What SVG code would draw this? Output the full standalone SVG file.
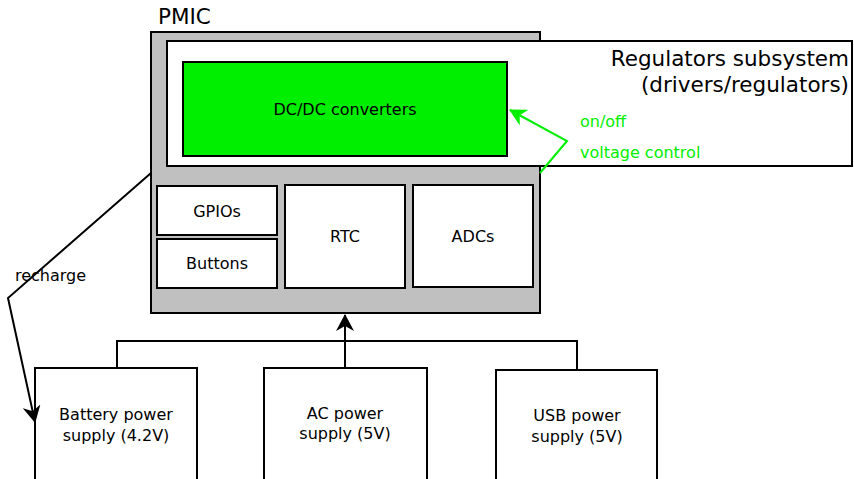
<svg xmlns="http://www.w3.org/2000/svg" width="854" height="479" viewBox="0 0 854 479">
<style>
text{font-family:"DejaVu Sans",sans-serif;font-size:16px;fill:#000}
.box{fill:#fff;stroke:#000;stroke-width:2}
.c{text-anchor:middle}
.ln{fill:none;stroke:#000;stroke-width:2}
.big{font-size:21.5px}
.gt{fill:#00ee00}
</style>
<defs>
<marker id="ab" viewBox="0 0 17 18" refX="16" refY="9" markerWidth="17" markerHeight="18" markerUnits="userSpaceOnUse" orient="auto">
<path d="M0,0 L17,9 L0,18 L5,9 Z" fill="#000"/>
</marker>
<marker id="ag" viewBox="0 0 17 18" refX="16" refY="9" markerWidth="17" markerHeight="18" markerUnits="userSpaceOnUse" orient="auto">
<path d="M0,0 L17,9 L0,18 L5,9 Z" fill="#00ee00"/>
</marker>
</defs>
<g id="pmic">
<rect x="151" y="32" width="389" height="281" fill="#c0c0c0" stroke="#000" stroke-width="2"/>
<text class="big" x="158" y="24">PMIC</text>
</g>
<g id="regulators">
<rect class="box" x="167" y="41" width="685" height="125"/>
<text class="big" x="849" y="66" text-anchor="end">Regulators subsystem</text>
<text class="big" x="849" y="92" text-anchor="end">(drivers/regulators)</text>
</g>
<g id="dcdc">
<rect x="183" y="62" width="324" height="94" fill="#00ee00" stroke="#000" stroke-width="2"/>
<text class="c" x="345" y="115">DC/DC converters</text>
</g>
<g id="gpios">
<rect class="box" x="157" y="186" width="120" height="49"/>
<text class="c" x="217" y="217">GPIOs</text>
</g>
<g id="buttons">
<rect class="box" x="157" y="239" width="120" height="49"/>
<text class="c" x="217" y="269">Buttons</text>
</g>
<g id="rtc">
<rect class="box" x="285" y="185" width="120" height="103"/>
<text class="c" x="345" y="242">RTC</text>
</g>
<g id="adcs">
<rect class="box" x="413" y="185" width="120" height="102"/>
<text class="c" x="473" y="242">ADCs</text>
</g>
<g id="battery">
<rect class="box" x="35" y="368" width="162" height="120"/>
<text class="c" x="116" y="420">Battery power</text>
<text class="c" x="116" y="441">supply (4.2V)</text>
</g>
<g id="ac">
<rect class="box" x="264" y="368" width="163" height="120"/>
<text class="c" x="345" y="419">AC power</text>
<text class="c" x="345" y="439">supply (5V)</text>
</g>
<g id="usb">
<rect class="box" x="496" y="370" width="161" height="120"/>
<text class="c" x="577" y="421">USB power</text>
<text class="c" x="577" y="442">supply (5V)</text>
</g>
<g id="connectors">
<polyline class="ln" points="117,368 117,341 577,341 577,370"/>
<line class="ln" x1="345" y1="368" x2="345" y2="315" marker-end="url(#ab)"/>
<polyline class="ln" points="151,173 8,298 35,422" marker-end="url(#ab)"/>
<polyline points="540,173 567,141 510,110" fill="none" stroke="#00ee00" stroke-width="2" marker-end="url(#ag)"/>
<text x="15" y="281">recharge</text>
<text class="gt" x="580" y="127">on/off</text>
<text class="gt" x="580" y="158">voltage control</text>
</g>
</svg>
